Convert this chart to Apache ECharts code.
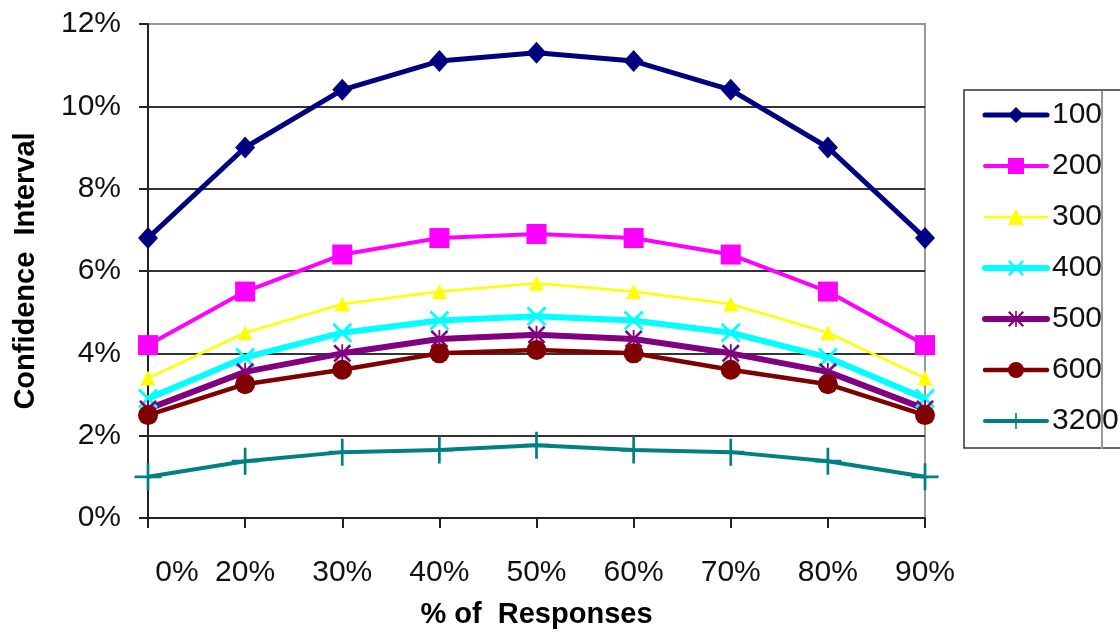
<!DOCTYPE html>
<html>
<head>
<meta charset="utf-8">
<title>Confidence Interval by Sample Size</title>
<script src="https://cdn.jsdelivr.net/npm/echarts@6/dist/echarts.min.js"></script>
<style>
  html, body { margin: 0; padding: 0; background: #fff; }
  #chart { width: 1120px; height: 632px; }
</style>
</head>
<body>
<div id="chart"></div>
<script>
// Share of responses (x axis categories)
const categories = ['0%', '20%', '30%', '40%', '50%', '60%', '70%', '80%', '90%'];

// Confidence interval (%) for each sample size
const n100  = [6.8, 9.0, 10.4, 11.1, 11.3, 11.1, 10.4, 9.0, 6.8];
const n200  = [4.2, 5.5, 6.4, 6.8, 6.9, 6.8, 6.4, 5.5, 4.2];
const n300  = [3.4, 4.5, 5.2, 5.5, 5.7, 5.5, 5.2, 4.5, 3.4];
const n400  = [2.9, 3.9, 4.5, 4.8, 4.9, 4.8, 4.5, 3.9, 2.9];
const n500  = [2.65, 3.55, 4.0, 4.35, 4.45, 4.35, 4.0, 3.55, 2.65];
const n600  = [2.5, 3.25, 3.6, 4.0, 4.08, 4.0, 3.6, 3.25, 2.5];
const n3200 = [1.0, 1.38, 1.6, 1.65, 1.77, 1.65, 1.6, 1.38, 1.0];

const seriesNames = ['100', '200', '300', '400', '500', '600', '3200'];
const seriesData = [n100, n200, n300, n400, n500, n600, n3200];

// Axis tick values (%)
const yMin = 0, yMax = 12, yStep = 2;

const FONT = "'Liberation Sans', Arial, sans-serif";
const FS = 30;

// Marker shapes
const crossPath = 'path://M0,2 L2,0 L10,8 L18,0 L20,2 L12,10 L20,18 L18,20 L10,12 L2,20 L0,18 L8,10 Z';
const starPath = 'path://M0,2 L2,0 L10,8 L18,0 L20,2 L12,10 L20,18 L18,20 L10,12 L2,20 L0,18 L8,10 Z M9,0 L11,0 L11,20 L9,20 Z';
const plusPath = 'path://M9,0 L11,0 L11,20 L9,20 Z M0,9 L20,9 L20,11 L0,11 Z';

const styles = [
  { color: '#000080', width: 5,   symbol: 'diamond',  size: [20, 22] },
  { color: '#FF00FF', width: 4,   symbol: 'rect',     size: 20 },
  { color: '#FFFF00', width: 2.5, symbol: 'triangle', size: 15 },
  { color: '#00FFFF', width: 6,   symbol: crossPath,  size: 20 },
  { color: '#800080', width: 6,   symbol: starPath,   size: 18 },
  { color: '#800000', width: 4.5, symbol: 'circle',   size: 20 },
  { color: '#008080', width: 4,   symbol: plusPath,   size: 27 }
];

const series = seriesNames.map((name, i) => ({
  name: name,
  type: 'line',
  data: seriesData[i],
  symbol: styles[i].symbol,
  symbolSize: styles[i].size,
  showAllSymbol: true,
  lineStyle: { color: styles[i].color, width: styles[i].width },
  itemStyle: { color: styles[i].color },
  emphasis: { disabled: true },
  animation: false
}));

const legendItems = seriesNames.map((name, i) => ({
  name: name,
  lineStyle: { color: styles[i].color, width: styles[i].width, cap: 'round' }
}));

const chart = echarts.init(document.getElementById('chart'), null, { renderer: 'canvas' });

chart.setOption({
  backgroundColor: '#ffffff',
  animation: false,
  textStyle: { fontFamily: FONT },
  grid: {
    left: 148, right: 195, top: 24, bottom: 114,
    outerBoundsMode: 'none',
    show: true, borderColor: '#999999', borderWidth: 2, backgroundColor: 'transparent'
  },
  xAxis: {
    type: 'category',
    data: categories,
    boundaryGap: false,
    name: '% of  Responses',
    nameLocation: 'middle',
    nameGap: 82,
    nameTextStyle: { fontFamily: FONT, fontSize: FS - 1, fontWeight: 'bold', color: '#000' },
    axisLine: { lineStyle: { color: '#222', width: 2 } },
    axisTick: { show: true, interval: 0, length: 10, lineStyle: { color: '#222', width: 2 } },
    axisLabel: {
      interval: 0,
      fontFamily: FONT, fontSize: FS, color: '#111', margin: 40,
      formatter: (v, idx) => idx === 0 ? '{first|' + v + '}' : v,
      rich: { first: { fontFamily: FONT, fontSize: FS, color: '#111', padding: [0, 0, 0, 58] } }
    },
    splitLine: { show: false }
  },
  yAxis: {
    type: 'value',
    min: yMin, max: yMax, interval: yStep,
    name: 'Confidence  Interval',
    nameLocation: 'middle',
    nameGap: 108,
    nameTextStyle: { fontFamily: FONT, fontSize: FS - 1, fontWeight: 'bold', color: '#000' },
    axisLine: { show: true, lineStyle: { color: '#222', width: 2 } },
    axisTick: { show: true, length: 9, lineStyle: { color: '#222', width: 2 } },
    axisLabel: { fontFamily: FONT, fontSize: FS, color: '#111', margin: 27, formatter: '{value}%' },
    splitLine: {
      show: true,
      lineStyle: { color: ['#333', '#333', '#333', '#333', '#333', '#333', '#999'], width: 2 }
    }
  },
  legend: {
    orient: 'vertical',
    left: 964, top: 90,
    padding: [10, 60, 12, 18],
    itemWidth: 62, itemHeight: 20, itemGap: 21,
    borderColor: '#333', borderWidth: 1.5,
    textStyle: { fontFamily: FONT, fontSize: FS, color: '#111', lineHeight: 30 },
    data: legendItems
  },
  graphic: [{
    type: 'line',
    shape: { x1: 1102, y1: 91, x2: 1102, y2: 449 },
    style: { stroke: '#999', lineWidth: 2 },
    z: 100
  }],
  series: series
});
</script>
</body>
</html>
